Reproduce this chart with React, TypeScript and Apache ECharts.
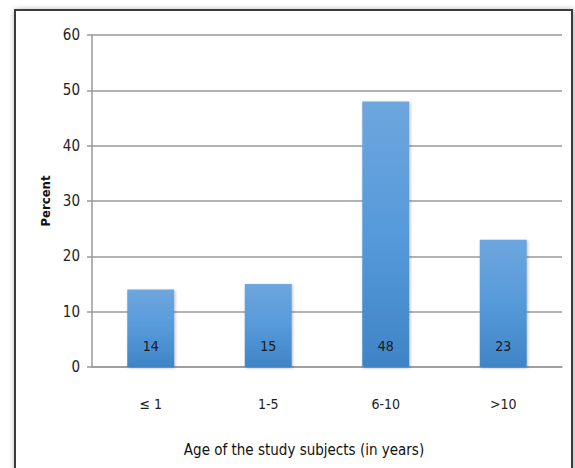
import React, { useEffect, useRef } from "react";
import * as echarts from "echarts";

const categories = ["≤ 1", "1-5", "6-10", ">10"];
const percentValues = [14, 15, 48, 23];
const yTicks = [0, 10, 20, 30, 40, 50, 60];
const xTitle = "Age of the study subjects (in years)";
const yTitle = "Percent";

const FONT = "'DejaVu Sans Condensed', 'Liberation Sans Narrow', 'Open Sans', sans-serif";

export default function App() {
  const ref = useRef<HTMLDivElement>(null);
  useEffect(() => {
    if (!ref.current) return;
    const chart = echarts.init(ref.current, undefined, { renderer: "svg" });
    chart.setOption({
      animation: false,
      backgroundColor: "#ffffff",
      graphic: [
        {
          type: "rect",
          shape: { x: 15, y: 10, width: 557, height: 470 },
          style: {
            fill: "#ffffff",
            stroke: "#3a3a3a",
            lineWidth: 2,
            shadowBlur: 6,
            shadowColor: "rgba(0,0,0,0.35)",
            shadowOffsetX: 1,
            shadowOffsetY: 1,
          },
          z: -10,
          silent: true,
        },
        {
          type: "text",
          x: 304,
          y: 450,
          style: {
            text: xTitle,
            fill: "#111",
            fontSize: 15,
            fontFamily: FONT,
            textAlign: "center",
            textVerticalAlign: "middle",
          },
        },
      ],
      grid: { left: 92, right: 13, top: 35, bottom: 101, containLabel: false },
      xAxis: {
        type: "category",
        data: categories,
        axisLine: { show: true, lineStyle: { color: "#9a9a9a", width: 1.5 } },
        axisTick: { show: false },
        axisLabel: { color: "#222", fontSize: 14, fontFamily: FONT, margin: 30 },
      },
      yAxis: {
        type: "value",
        min: yTicks[0],
        max: yTicks[yTicks.length - 1],
        interval: 10,
        axisLine: { show: true, lineStyle: { color: "#9a9a9a", width: 1.5 } },
        axisTick: { show: true, length: 5, lineStyle: { color: "#9a9a9a", width: 1.5 } },
        splitLine: { show: true, lineStyle: { color: "#9a9a9a", width: 1.5 } },
        axisLabel: { color: "#222", fontSize: 15, fontFamily: FONT, margin: 12 },
        name: yTitle,
        nameLocation: "middle",
        nameGap: 38,
        nameRotate: 90,
        nameTextStyle: { color: "#111", fontSize: 13, fontWeight: "bold", fontFamily: FONT },
      },
      series: [
        {
          type: "bar",
          data: percentValues,
          barWidth: 47,
          itemStyle: {
            color: new echarts.graphic.LinearGradient(0, 0, 0, 1, [
              { offset: 0, color: "#6ea6de" },
              { offset: 0.5, color: "#569ada" },
              { offset: 1, color: "#3f84c6" },
            ]),
            shadowBlur: 3,
            shadowColor: "rgba(0,0,0,0.25)",
            shadowOffsetX: 1,
            shadowOffsetY: 1,
          },
          label: {
            show: true,
            position: "insideBottom",
            distance: 14,
            color: "#1a1a1a",
            fontSize: 14,
            fontFamily: FONT,
          },
        },
      ],
    });
    return () => chart.dispose();
  }, []);
  return (
    <div
      ref={ref}
      style={{ position: "absolute", left: 0, top: 0, width: 575, height: 468 }}
    />
  );
}
